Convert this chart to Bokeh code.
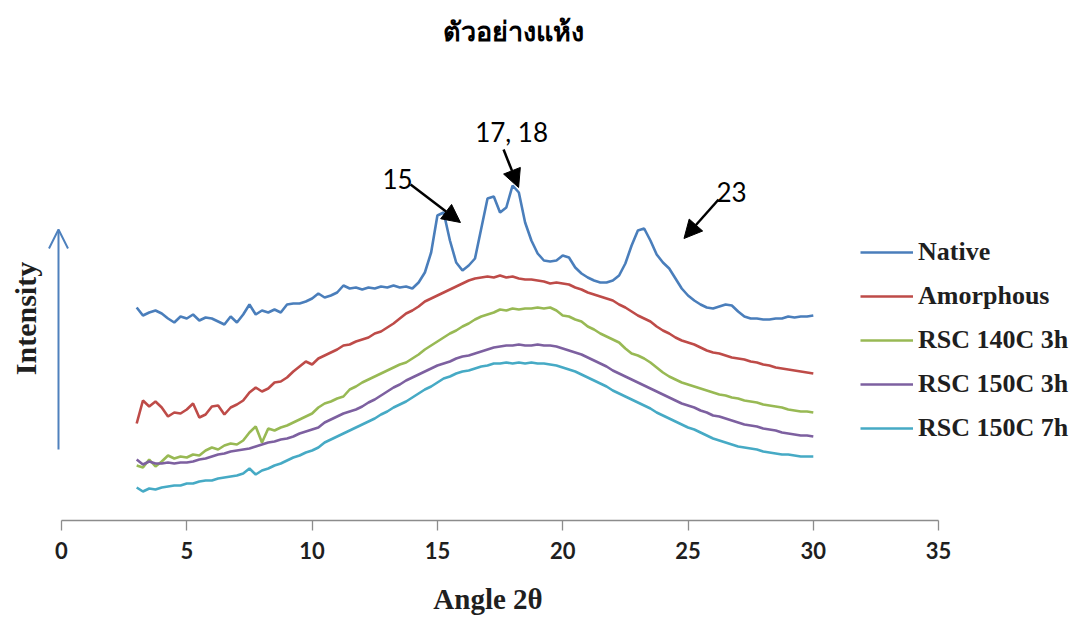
from bokeh.plotting import figure
from bokeh.models import Range1d, Arrow, OpenHead, NormalHead, Label, Legend, LegendItem, FixedTicker
from bokeh.embed import file_html
from bokeh.resources import INLINE

# ---- data (intensity in arbitrary units) ----
angle = [3 + 0.25 * i for i in range(109)]  # 3.0 ... 30.0 deg 2-theta

native = [
    213, 205, 208, 210,  207, 202, 198, 204,  202, 206, 200, 203,  202, 199, 196, 204,
    198, 206, 216, 206,  210, 208, 211, 208,  216, 217, 217, 219,  222, 227, 223, 225,
    228, 235, 232, 233,  231, 233, 232, 234,  233, 235, 233, 234,  232, 238, 248, 268,
    305, 308, 280, 258,  250, 255, 262, 292,  322, 324, 308, 313,  335, 328, 298, 280,
    267, 260, 259, 260,  265, 263, 253, 247,  243, 240, 238, 238,  240, 245, 257, 275,
    290, 292, 280, 266,  258, 252, 242, 232,  225, 220, 216, 213,  212, 214, 216, 215,
    209, 204, 202, 202,  201, 201, 202, 202,  204, 203, 204, 204,  205]

amorphous = [
    97, 120, 114, 119,  113, 104, 108, 107,  111, 117, 103, 106,  114, 115, 106, 113,
    116, 120, 128, 133,  129, 132, 138, 139,  143, 149, 154, 159,  156, 162, 165, 168,
    171, 175, 176, 179,  181, 183, 187, 189,  193, 197, 202, 207,  210, 214, 219, 222,
    225, 228, 231, 234,  237, 240, 242, 243,  244, 243, 245, 243,  244, 242, 241, 241,
    240, 239, 237, 238,  237, 236, 233, 231,  228, 226, 224, 222,  220, 216, 213, 209,
    205, 202, 199, 194,  190, 187, 183, 180,  178, 176, 173, 170,  168, 167, 165, 163,
    162, 161, 159, 158,  156, 155, 153, 152,  151, 150, 149, 148,  147]

rsc140_3h = [
    55, 53, 61, 54,  59, 65, 62, 64,  63, 66, 65, 70,  73, 71, 75, 77,
    76, 80, 88, 94,  78, 92, 90, 93,  95, 98, 101, 104,  107, 113, 117, 119,
    122, 124, 131, 134,  138, 141, 144, 147,  150, 153, 156, 158,  162, 166, 171, 175,
    179, 183, 187, 190,  194, 197, 201, 204,  206, 208, 211, 210,  212, 211, 212, 212,
    213, 212, 213, 210,  205, 204, 201, 199,  194, 191, 187, 184,  181, 178, 172, 167,
    165, 162, 158, 153,  148, 144, 141, 138,  136, 134, 132, 130,  128, 126, 125, 123,
    122, 120, 119, 118,  116, 115, 114, 113,  111, 110, 109, 109,  108]

rsc150_3h = [
    61, 56, 59, 57,  57, 58, 57, 58,  58, 59, 61, 62,  64, 66, 67, 69,
    70, 71, 72, 74,  76, 78, 79, 81,  82, 84, 87, 89,  91, 93, 98, 101,
    104, 107, 109, 111,  114, 118, 121, 125,  129, 133, 136, 140,  143, 146, 149, 152,
    155, 157, 159, 162,  164, 165, 167, 169,  171, 173, 174, 175,  175, 176, 175, 175,
    176, 175, 175, 174,  172, 170, 168, 166,  163, 160, 157, 154,  150, 147, 144, 141,
    138, 135, 132, 129,  126, 123, 120, 117,  115, 113, 110, 108,  105, 104, 102, 100,
    98, 96, 95, 94,  92, 91, 90, 88,  87, 86, 85, 85,  84]

rsc150_7h = [
    33, 29, 32, 31,  33, 34, 35, 35,  37, 37, 39, 40,  40, 42, 43, 44,
    45, 47, 52, 46,  50, 52, 55, 57,  60, 63, 65, 68,  70, 73, 78, 81,
    84, 87, 90, 93,  96, 99, 102, 106,  109, 113, 116, 119,  123, 127, 131, 134,
    138, 142, 144, 147,  149, 150, 152, 154,  155, 157, 157, 158,  157, 158, 157, 158,
    157, 157, 156, 155,  153, 151, 149, 146,  143, 140, 137, 134,  130, 127, 124, 121,
    118, 115, 112, 108,  105, 102, 99, 96,  93, 91, 88, 85,  82, 80, 78, 76,
    74, 73, 72, 71,  69, 68, 67, 66,  66, 65, 64, 64,  64]

series_names = ["Native", "Amorphous", "RSC 140C 3h", "RSC 150C 3h", "RSC 150C 7h"]
series_values = [native, amorphous, rsc140_3h, rsc150_3h, rsc150_7h]
series_colors = ["#4a7ebb", "#be4b48", "#98b954", "#7d60a0", "#46aac5"]

x_ticks = [0, 5, 10, 15, 20, 25, 30, 35]

peak_labels = ["15", "17, 18", "23"]
peak_label_pos = [(13.41, 342), (17.96, 389), (26.74, 329)]
peak_arrows = [((13.93, 336), (15.92, 298)), ((17.64, 371), (18.24, 333)), ((26.22, 321), (24.84, 282))]

title_text = "ตัวอย่างแห้ง"
x_title = "Angle 2θ"
y_title = "Intensity"

# ---- figure ----
px_per_unit = 25.06
p = figure(width=1079, height=617, output_backend="svg", toolbar_location=None,
           x_range=Range1d(-61 / px_per_unit, 1018 / px_per_unit),
           y_range=Range1d(-97, 520),
           y_axis_location=None,
           min_border_left=0, min_border_right=0, min_border_top=0, min_border_bottom=0)
p.outline_line_color = None
p.xgrid.visible = False
p.ygrid.visible = False
p.background_fill_color = "white"
p.border_fill_color = "white"

ax = p.xaxis[0]
ax.fixed_location = 0
ax.bounds = (0, 35)
ax.ticker = FixedTicker(ticks=x_ticks)
ax.axis_line_color = "#8c8c8c"
ax.axis_line_width = 1.3
ax.major_tick_line_color = "#8c8c8c"
ax.major_tick_line_width = 1.3
ax.major_tick_in = 0
ax.major_tick_out = 10
ax.minor_tick_line_color = None
ax.major_label_text_font = "Lato"
ax.major_label_text_font_style = "bold"
ax.major_label_text_font_size = "22px"
ax.major_label_text_color = "#1f1f1f"
ax.major_label_standoff = 11

items = []
for name, vals, col in zip(series_names, series_values, series_colors):
    r = p.line(angle, vals, line_color=col, line_width=2.6)
    items.append(LegendItem(label=name, renderers=[r]))

legend = Legend(items=items, location=(860, 174), orientation="vertical",
                label_text_font="Liberation Serif", label_text_font_style="bold",
                label_text_font_size="26px", label_text_color="#1f1f1f",
                glyph_width=53, glyph_height=20, label_standoff=5, spacing=14,
                padding=0, margin=0, border_line_color=None, background_fill_alpha=0)
p.add_layout(legend)

# x axis title
p.add_layout(Label(x=17.02, y=-78, text=x_title, text_align="center", text_baseline="middle",
                   text_font="Liberation Serif", text_font_style="bold",
                   text_font_size="29px", text_color="#1f1f1f"))

# Intensity arrow on the left
p.add_layout(Arrow(x_start=-0.12, y_start=71, x_end=-0.12, y_end=291,
                   line_color="#4f81bd", line_width=2,
                   end=OpenHead(size=19, line_color="#4f81bd", line_width=2)))
p.add_layout(Label(x=-1.45, y=202, text=y_title, angle=90, angle_units="deg",
                   text_align="center", text_baseline="middle",
                   text_font="Liberation Serif", text_font_style="bold",
                   text_font_size="30px", text_color="#1f1f1f"))

# peak annotations
for txt, (lx, ly), ((xs, ys), (xe, ye)) in zip(peak_labels, peak_label_pos, peak_arrows):
    p.add_layout(Label(x=lx, y=ly, text=txt, text_align="center", text_baseline="middle",
                       text_font="Lato", text_font_size="26px", text_color="black"))
    p.add_layout(Arrow(x_start=xs, y_start=ys, x_end=xe, y_end=ye,
                       line_color="black", line_width=2.5,
                       end=NormalHead(size=18, fill_color="black", line_color="black")))

# chart title
p.add_layout(Label(x=18.04, y=489, text=title_text, text_align="center", text_baseline="middle",
                   text_font="Liberation Serif", text_font_style="bold",
                   text_font_size="27px", text_color="black"))

open("out.html", "w").write(file_html(p, INLINE))
